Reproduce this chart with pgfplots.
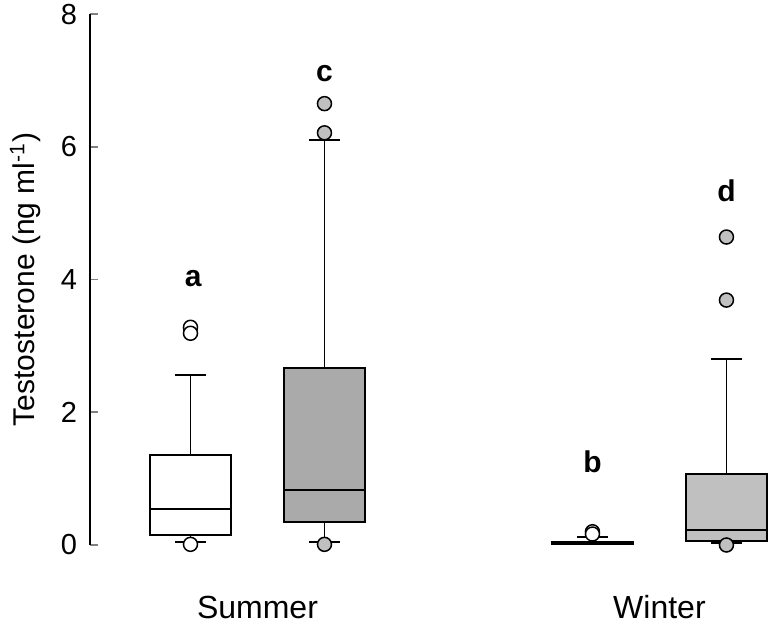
\documentclass[border=0pt]{standalone}
\usepackage{fontspec}
\setmainfont{Liberation Sans}
\usepackage{pgfplots}
\pgfplotsset{compat=1.18}
\usepgfplotslibrary{statistics}
\definecolor{sumgray}{HTML}{AAAAAA}
\definecolor{wingray}{HTML}{C0C0C0}
\definecolor{outgray}{HTML}{C0C0C0}
\begin{document}
\begin{tikzpicture}
\useasboundingbox (-45pt,-44.5pt) rectangle (339pt,272.5pt);
\begin{axis}[
  scale only axis, width=339pt, height=265.5pt,
  xmin=0.25, xmax=5.31, ymin=0, ymax=8,
  axis lines*=left,
  x axis line style={draw=none},
  y axis line style={line width=0.8pt},
  xtick={1.5,4.5}, xticklabels={Summer,Winter},
  xtick style={draw=none},
  ytick={0,2,4,6,8}, ytick pos=left,
  ytick style={line width=0.8pt},
  tick align=inside, major tick length=4pt,
  /pgf/number format/assume math mode=true,
  every y tick label/.append style={font=\fontsize{14.5}{17}\selectfont},
  yticklabel style={xshift=-3pt},
  every x tick label/.append style={font=\fontsize{16}{19}\selectfont},
  xticklabel style={anchor=center, yshift=-31pt},
  ylabel={Testosterone (ng ml\textsuperscript{-1})},
  ylabel style={font=\fontsize{15}{18}\selectfont, at={(axis description cs:-0.095,0.5)}, anchor=center},
  clip=false,
  boxplot/draw direction=y,
  boxplot/box extend=0.6,
  boxplot/whisker extend=0.23,
  every axis plot/.append style={line width=0.9pt},
]
% Summer, white
\addplot+[draw=black, fill=white, solid,
  mark=*, mark size=3.5pt, mark options={draw=black, fill=white, line width=0.75pt},
  boxplot prepared={draw position=1, lower whisker=0.05, lower quartile=0.15,
    median=0.54, upper quartile=1.35, upper whisker=2.56}]
  table[row sep=\\, y index=0] {3.28\\ 3.19\\ 0.01\\};
% Summer, gray
\addplot+[draw=black, fill=sumgray, solid,
  mark=*, mark size=3.5pt, mark options={draw=black, fill=outgray, line width=0.75pt},
  boxplot prepared={draw position=2, lower whisker=0.04, lower quartile=0.35,
    median=0.83, upper quartile=2.67, upper whisker=6.10}]
  table[row sep=\\, y index=0] {6.65\\ 6.21\\ 0.01\\};
% Winter, white
\addplot+[draw=black, fill=white, solid,
  mark=*, mark size=3.5pt, mark options={draw=black, fill=white, line width=0.75pt},
  boxplot prepared={draw position=4, lower whisker=0.02, lower quartile=0.02,
    median=0.03, upper quartile=0.045, upper whisker=0.12}]
  table[row sep=\\, y index=0] {0.20\\ 0.165\\};
% Winter, gray
\addplot+[draw=black, fill=wingray, solid,
  mark=*, mark size=3.5pt, mark options={draw=black, fill=outgray, line width=0.75pt},
  boxplot prepared={draw position=5, lower whisker=0.025, lower quartile=0.06,
    median=0.23, upper quartile=1.065, upper whisker=2.80}]
  table[row sep=\\, y index=0] {4.64\\ 3.69\\ 0.0\\};
\node[font=\fontsize{15}{18}\selectfont\bfseries] at (axis cs:1.02,4.02) {a};
\node[font=\fontsize{15}{18}\selectfont\bfseries] at (axis cs:2,7.11) {c};
\node[font=\fontsize{15}{18}\selectfont\bfseries] at (axis cs:4,1.26) {b};
\node[font=\fontsize{15}{18}\selectfont\bfseries] at (axis cs:5,5.33) {d};
\end{axis}
\end{tikzpicture}
\end{document}
